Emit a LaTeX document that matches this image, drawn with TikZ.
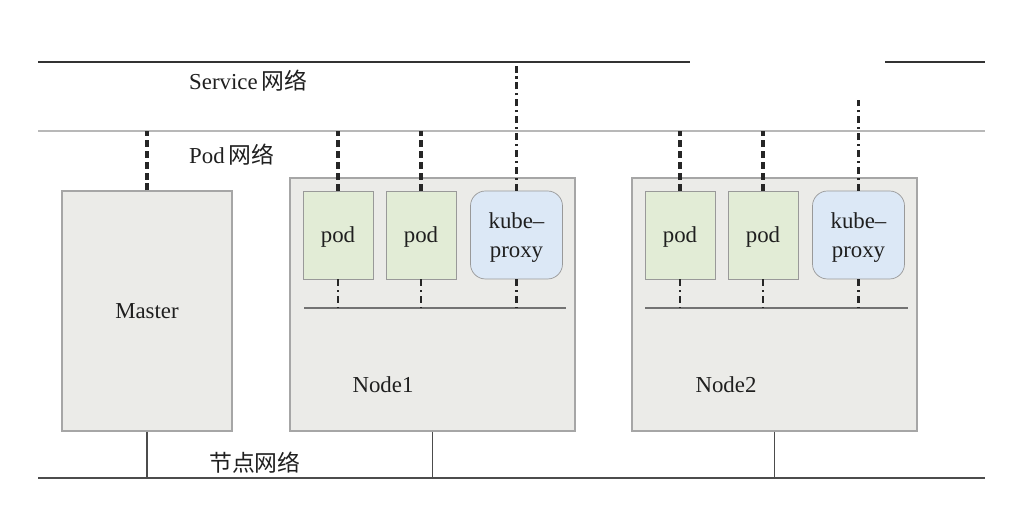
\documentclass[tikz,border=0pt]{standalone}
\usepackage{fontspec}
\usepackage{tikz}
\setmainfont{Liberation Serif}
\newfontfamily\cjk{Noto Sans CJK SC}
\definecolor{boxgray}{HTML}{EBEBE8}
\definecolor{podgreen}{HTML}{E2ECD6}
\definecolor{proxyblue}{HTML}{DCE8F6}
\tikzset{
	netline/.style={line width=0.9pt,black!80},
	podnetline/.style={line width=1.6pt,black!28},
	hostline/.style={line width=0.8pt,black!70},
	busline/.style={line width=1.2pt,black!55},
	hostbox/.style={draw=black!35,fill=boxgray,line width=0.6pt},
	podbox/.style={draw=black!40,fill=podgreen,minimum width=14mm,minimum height=17.6mm,text depth=0pt},
	proxybox/.style={draw=black!40,fill=proxyblue,rounded corners=3mm,minimum width=18.4mm,minimum height=17.6mm,align=center,text depth=0pt},
	podlink/.style={line width=2.2pt,dash pattern=on 4pt off 2.2pt,black!85},
	proxylink/.style={line width=1.3pt,dash pattern=on 4pt off 2.2pt on 1.2pt off 2.2pt,black!85},
}

\begin{document}
\begin{tikzpicture}[x=0.2mm,y=-0.2mm,font=\fontsize{13}{16.5}\selectfont,text=black!88]
			\useasboundingbox (0,0) rectangle (1021,518);
			%\draw [help lines] (0,0) grid (1021,518);
			% networks
			\coordinate (svcL) at (38,62);
			\coordinate (svcR) at (985,62);
			\coordinate (podL) at (38,131);
			\coordinate (podR) at (985,131);
			\coordinate (hostL) at (38,478);
			\coordinate (hostR) at (985,478);
			\draw [netline] (svcL) -- (690,62);
			\draw [netline] (885,62) -- (svcR);
			\draw [podnetline] (podL) -- (podR);
			\draw [hostline] (hostL) -- (hostR);
			\node[anchor=west] (svclabel) at (183,81) {Service\,{\cjk 网络}};
			\node[anchor=west] (podlabel) at (183,155) {Pod\,{\cjk 网络}};
			\node[anchor=west] (hostlabel) at (203,463) {\cjk 节点网络};
			% hosts
			\node[hostbox,minimum width=34mm,minimum height=48mm] (master) at (147,311) {Master};
			\node[hostbox,minimum width=57mm,minimum height=50.6mm] (node1) at (432.5,304.5) {};
			\node[hostbox,minimum width=57mm,minimum height=50.6mm] (node2) at (774.5,304.5) {};
			\node[] (node1label) at (383,385) {Node1};
			\node[] (node2label) at (726,385) {Node2};
			% pods and proxies
			\node[podbox] (pod1a) at (338,235) {pod};
			\node[podbox] (pod1b) at (421,235) {pod};
			\node[proxybox] (proxy1) at (516.5,235) {kube--\\proxy};
			\node[podbox] (pod2a) at (680,235) {pod};
			\node[podbox] (pod2b) at (763,235) {pod};
			\node[proxybox] (proxy2) at (858.5,235) {kube--\\proxy};
			\coordinate (bus1L) at (304,308);
			\coordinate (bus1R) at (566,308);
			\coordinate (bus2L) at (645,308);
			\coordinate (bus2R) at (908,308);
			\draw [busline] (bus1L) -- (bus1R);
			\draw [busline] (bus2L) -- (bus2R);
			% links to the pod network
			\foreach \n in {master,pod1a,pod1b,pod2a,pod2b}
				\draw [podlink] (\n.north) -- (\n.north |- podL);
			% links to the service network
			\draw [proxylink] (proxy1.north) -- (proxy1.north |- svcL);
			\draw [proxylink] (proxy2.north) -- (858.5,100);
			% links to the node bus
			\foreach \n in {pod1a,pod1b,proxy1}
				\draw [proxylink] (\n.south) -- (\n.south |- bus1L);
			\foreach \n in {pod2a,pod2b,proxy2}
				\draw [proxylink] (\n.south) -- (\n.south |- bus2L);
			% links to the host network
			\draw [hostline] (master.south) -- (master.south |- hostL);
			\draw [hostline] (node1.south) -- (node1.south |- hostL);
			\draw [hostline] (node2.south) -- (node2.south |- hostL);
		\end{tikzpicture}
\end{document}
